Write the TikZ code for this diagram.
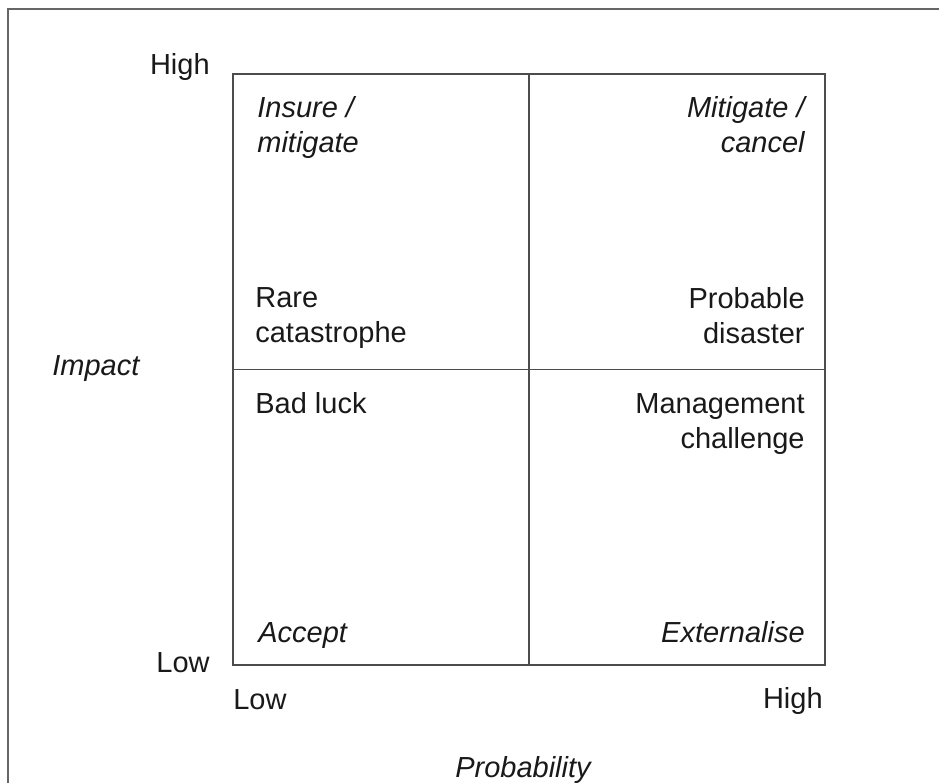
\documentclass[tikz,border=0pt]{standalone}
\usepackage{fontspec}
\setmainfont{Liberation Sans}
\begin{document}
\begin{tikzpicture}[font=\fontsize{16.5}{19.9}\selectfont,
    txt/.style={inner sep=0pt, text=black!90},
    act/.style={txt, font=\fontsize{16.5}{19.9}\selectfont\itshape}]
                \useasboundingbox (0,0) rectangle (18.78,15.66);
                % Frame
                \draw[black!60, line width=0.7pt] (0.16,0) -- (0.16,15.48) -- (18.78,15.48);

                % Grid
                \coordinate (sw) at (4.66,2.36);
                \coordinate (ne) at (16.5,14.18);
                \coordinate (mid) at (10.58,8.27);
                \draw[black!70, line width=1pt] (sw) rectangle (ne);
                \draw[black!70, line width=1pt] (mid |- sw) -- (mid |- ne);
                \draw[black!70, line width=1pt] (sw |- mid) -- (ne |- mid);

                % --- AXIS LABELS ---
                \node[txt, anchor=base east] (yhigh) at (4.2,14.16) {High};
                \node[txt, anchor=base east] (ylow) at (4.2,2.22) {Low};
                \node[txt, anchor=base west] (xlow) at (4.66,1.48) {Low};
                \node[txt, anchor=base east] (xhigh) at (16.46,1.5) {High};
                \node[act, anchor=base west] (impact) at (1.04,8.16) {Impact};
                \node[act, anchor=base] (prob) at (10.46,0.12) {Probability};

                % --- QUADRANTS ---
                % high impact, low probability
                \node[act, anchor=north west, align=left] (insure) at (5.14,13.74) {Insure /\\mitigate};
                \node[txt, anchor=north west, align=left] (rare) at (5.1,9.92) {Rare\\catastrophe};
                % high impact, high probability
                \node[act, anchor=north east, align=right] (mitig) at (16.1,13.74) {Mitigate /\\cancel};
                \node[txt, anchor=north east, align=right] (disaster) at (16.1,9.92) {Probable\\disaster};
                % low impact, low probability
                \node[txt, anchor=base west] (badluck) at (5.1,7.38) {Bad luck};
                \node[act, anchor=base west] (accept) at (5.16,2.82) {Accept};
                % low impact, high probability
                \node[txt, anchor=north east, align=right] (mgmt) at (16.1,7.8) {Management\\challenge};
                \node[act, anchor=base east] (extern) at (16.1,2.82) {Externalise};
\end{tikzpicture}
\end{document}
